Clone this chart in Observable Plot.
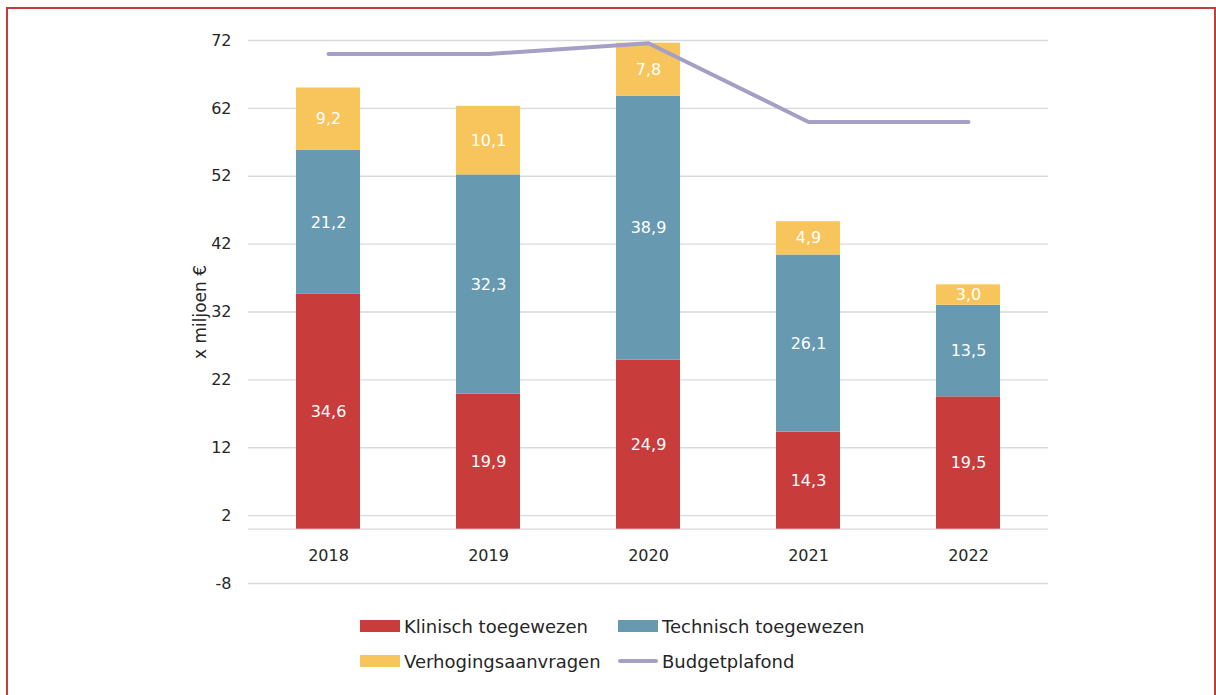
<!DOCTYPE html>
<html>
<head>
<meta charset="utf-8">
<script src="https://cdn.jsdelivr.net/npm/d3@7"></script>
<script src="https://cdn.jsdelivr.net/npm/@observablehq/plot@0.6"></script>
<style>
  html, body { margin: 0; padding: 0; background: #fff; overflow: hidden; width: 1216px; height: 695px; }
  body { font-family: "DejaVu Sans", sans-serif; position: relative; }
  #frame { position: absolute; left: 6px; top: 7px; width: 1206px; height: 700px; border: 2px solid #c73b3b; box-sizing: content-box; pointer-events: none; }
  #chart { position: absolute; left: 0; top: 0; }
  #legend { position: absolute; left: 0; top: 0; width: 1216px; height: 695px; pointer-events: none; }
  .item { position: absolute; display: flex; align-items: center; font-size: 18px; color: #262626; white-space: nowrap; }
  .sw { display: inline-block; width: 40px; height: 12px; margin-right: 4px; }
  .ln { display: inline-block; width: 40px; height: 4px; border-radius: 2px; margin-right: 4px; }
</style>
</head>
<body>
<div id="chart"></div>
<div id="legend"></div>
<div id="frame"></div>
<script>
const years = ["2018", "2019", "2020", "2021", "2022"];
const klinisch = [34.6, 19.9, 24.9, 14.3, 19.5];
const technisch = [21.2, 32.3, 38.9, 26.1, 13.5];
const verhoging = [9.2, 10.1, 7.8, 4.9, 3.0];
const plafond = [70, 70, 71.6, 60, 60];
const series = ["Klinisch toegewezen", "Technisch toegewezen", "Verhogingsaanvragen"];
const lineName = "Budgetplafond";
const colors = ["#c83c3b", "#6799b0", "#f7c55b"];
const lineColor = "#a59fc5";
const yTicks = [-8, 2, 12, 22, 32, 42, 52, 62, 72];
const yLabel = "x miljoen €";

const seriesValues = [klinisch, technisch, verhoging];
const data = years.flatMap((yr, i) => series.map((s, k) => ({year: yr, type: s, value: seriesValues[k][i]})));
const lineData = years.map((yr, i) => ({year: yr, value: plafond[i]}));
const fmt = v => v.toFixed(1).replace(".", ",");

const chart = Plot.plot({
  width: 1216,
  height: 600,
  marginLeft: 248,
  marginRight: 168,
  marginTop: 40,
  marginBottom: 17,
  style: {fontFamily: "DejaVu Sans, sans-serif", background: "transparent"},
  x: {domain: years, paddingInner: 0.6, paddingOuter: 0.3, axis: null},
  y: {domain: [-8, 72], axis: null},
  color: {domain: series, range: colors},
  marks: [
    Plot.ruleY(yTicks, {stroke: "#d9d9d9", strokeWidth: 1.3}),
    Plot.ruleY([0], {stroke: "#d9d9d9", strokeWidth: 1.3}),
    Plot.axisY(yTicks, {tickSize: 0, tickPadding: 17, fontSize: 16, color: "#262626", label: null, tickFormat: d => String(d)}),
    Plot.barY(data, {x: "year", y: "value", fill: "type", z: "type", order: series}),
    Plot.text(data, Plot.stackY({x: "year", y: "value", z: "type", order: series, text: d => fmt(d.value), fill: "white", fontSize: 16})),
    Plot.line(lineData, {x: "year", y: "value", stroke: lineColor, strokeWidth: 4, strokeLinecap: "round", strokeLinejoin: "round"}),
    Plot.text(years, {x: d => d, y: 0, dy: 27, fontSize: 16, fill: "#262626"}),
    Plot.text([yLabel], {frameAnchor: "left", textAnchor: "middle", rotate: -90, dx: -48, fontSize: 17, fill: "#262626"})
  ]
});
document.getElementById("chart").appendChild(chart);

// Legend (HTML, below plot area)
const legend = document.getElementById("legend");
const entries = [
  {name: series[0], color: colors[0], kind: "sw", left: 360, top: 626},
  {name: series[1], color: colors[1], kind: "sw", left: 618, top: 626},
  {name: series[2], color: colors[2], kind: "sw", left: 360, top: 661},
  {name: lineName, color: lineColor, kind: "ln", left: 618, top: 661}
];
for (const e of entries) {
  const div = document.createElement("div");
  div.className = "item";
  div.style.left = e.left + "px";
  div.style.top = (e.top - 11) + "px";
  div.style.height = "22px";
  const sw = document.createElement("span");
  sw.className = e.kind;
  sw.style.background = e.color;
  div.appendChild(sw);
  const t = document.createElement("span");
  t.textContent = e.name;
  div.appendChild(t);
  legend.appendChild(div);
}
</script>
</body>
</html>
